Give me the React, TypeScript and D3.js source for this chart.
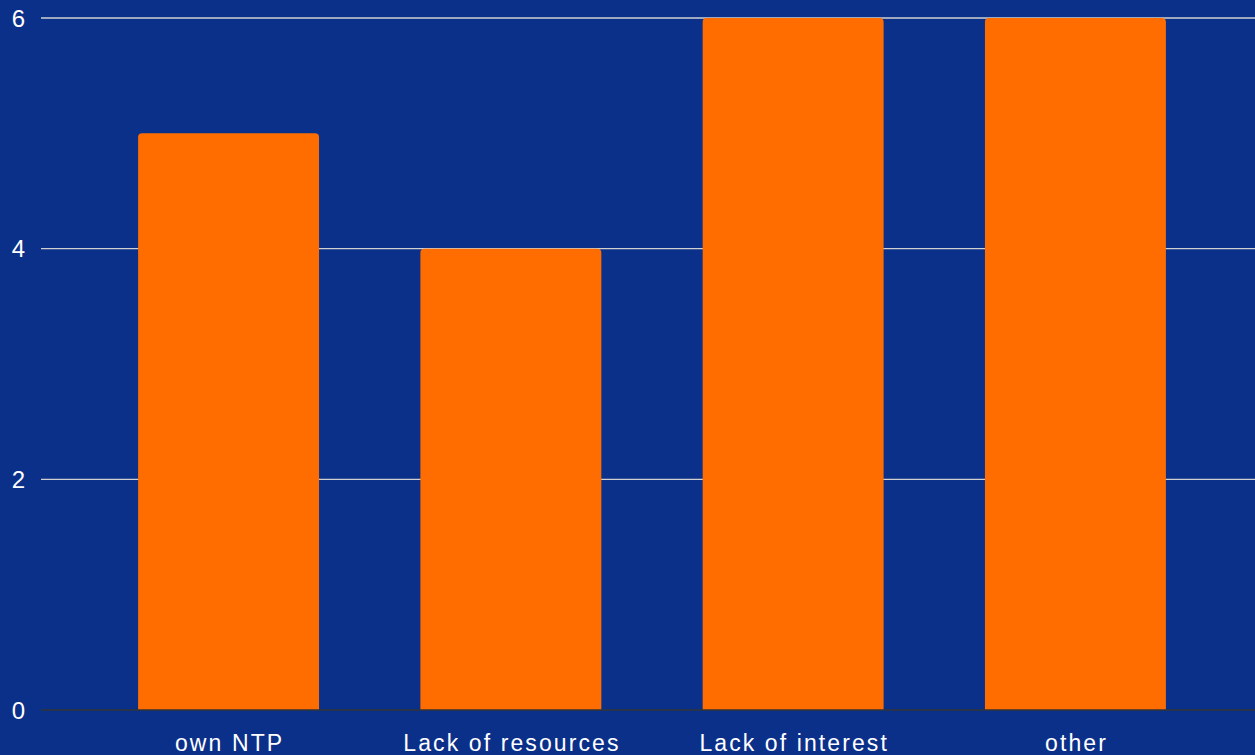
import React from "react";
import * as d3 from "d3";

const categories = ["own NTP", "Lack of resources", "Lack of interest", "other"];
const values = [5, 4, 6, 6];
const yTicks = [0, 2, 4, 6];

const W = 1255;
const H = 755;
const BG = "#0b308a";
const BAR = "#ff6d00";

function topRoundedRect(x: number, y: number, w: number, h: number, r: number) {
  const rr = Math.min(r, h, w / 2);
  return `M${x},${y + h}V${y + rr}Q${x},${y} ${x + rr},${y}H${x + w - rr}Q${x + w},${y} ${x + w},${y + rr}V${y + h}Z`;
}

export default function App() {
  const x = d3
    .scaleBand<string>()
    .domain(categories)
    .range([41, 1263])
    .paddingInner(0.359)
    .paddingOuter(0.344);
  const y = d3.scaleLinear().domain([0, 6]).range([710, 18]);
  const font = "Liberation Sans, Arial, Helvetica, sans-serif";
  const ls = 2.1;

  return (
    <svg
      width={W}
      height={H}
      style={{ position: "absolute", left: 0, top: 0, display: "block" }}
    >
      <rect x={0} y={0} width={W} height={H} fill={BG} />
      {yTicks.map((t) => (
        <g key={t}>
          {t !== 0 && (
            <line x1={41} x2={W} y1={y(t)} y2={y(t)} stroke="#d0d0d0" strokeWidth={1.3} />
          )}
          <text
            x={18.5}
            y={y(t)}
            dy="0.36em"
            textAnchor="middle"
            fill="#ffffff"
            fontSize={24}
            fontFamily={font}
          >
            {t}
          </text>
        </g>
      ))}
      {categories.map((c, i) => {
        const bx = x(c)!;
        const bw = x.bandwidth();
        const by = y(values[i]);
        return (
          <path
            key={c}
            d={topRoundedRect(bx, by, bw, y(0) - by, 4)}
            fill={BAR}
          />
        );
      })}
      <line x1={41} x2={W} y1={y(0)} y2={y(0)} stroke="#333333" strokeWidth={1.5} />
      {categories.map((c) => (
        <text
          key={c}
          x={x(c)! + x.bandwidth() / 2 + ls / 2}
          y={750.5}
          textAnchor="middle"
          fill="#ffffff"
          fontSize={23}
          letterSpacing={ls}
          fontFamily={font}
        >
          {c}
        </text>
      ))}
    </svg>
  );
}
